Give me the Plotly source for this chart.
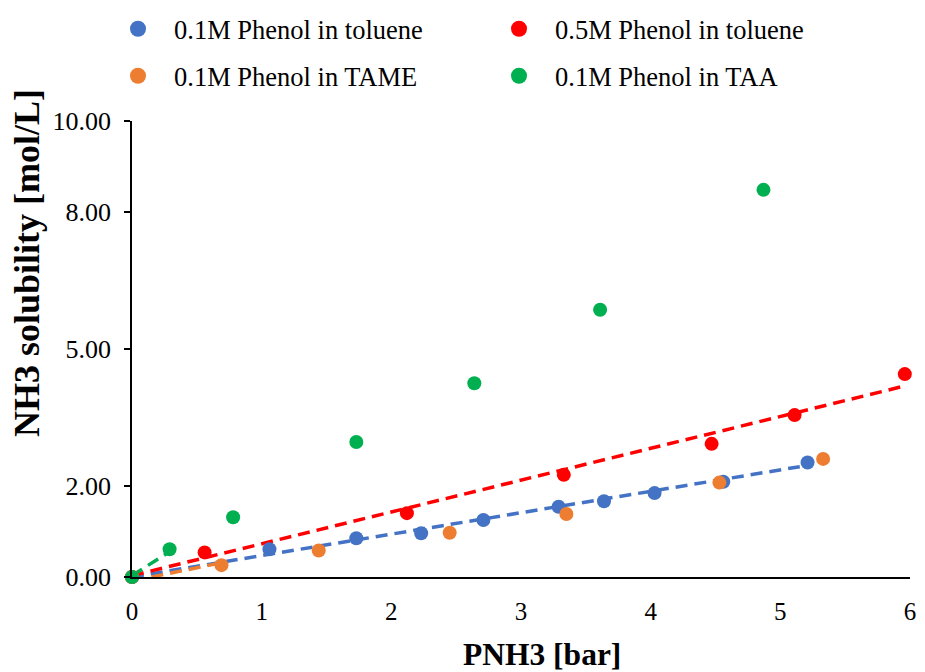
import plotly.graph_objects as go

FONT = "Liberation Serif, Times New Roman, serif"

# Data (PNH3 [bar], NH3 solubility [mol/L])
tol01_x = [0, 1.06, 1.73, 2.23, 2.71, 3.29, 3.64, 4.03, 4.56, 5.21]
tol01_y = [0, 0.61, 0.85, 0.96, 1.25, 1.54, 1.66, 1.84, 2.09, 2.51]

tol05_x = [0, 0.56, 2.12, 3.33, 4.47, 5.11, 5.96]
tol05_y = [0, 0.54, 1.40, 2.24, 2.92, 3.55, 4.45]

tame_x = [0, 0.69, 1.44, 2.45, 3.35, 4.53, 5.33]
tame_y = [0, 0.26, 0.58, 0.97, 1.38, 2.07, 2.59]

taa_x = [0, 0.29, 0.78, 1.73, 2.64, 3.61, 4.87]
taa_y = [0, 0.61, 1.31, 2.96, 4.25, 5.86, 8.49]

# Trendline endpoints
tol01_fit_x = [0, 5.15]
tol01_fit_y = [0.0, 2.42]
tol05_fit_x = [0, 5.96]
tol05_fit_y = [0.03, 4.19]
tame_fit_x = [0.15, 0.72]
tame_fit_y = [0.0, 0.33]
taa_fit_x = [0, 0.33]
taa_fit_y = [0.03, 0.63]

y_ticks = [0, 2, 5, 8, 10]
x_ticks = [0, 1, 2, 3, 4, 5, 6]

BLUE = "#4472C4"
RED = "#FF0000"
ORANGE = "#ED7D31"
GREEN = "#00B050"

fig = go.Figure()

DASH = "12px,7px"
for fx, fy, c in [(tol01_fit_x, tol01_fit_y, BLUE), (tol05_fit_x, tol05_fit_y, RED),
                  (tame_fit_x, tame_fit_y, ORANGE), (taa_fit_x, taa_fit_y, GREEN)]:
    fig.add_trace(go.Scatter(x=fx, y=fy, mode="lines", showlegend=False,
                             line=dict(color=c, width=3.5, dash=DASH), hoverinfo="skip"))

series = [
    ("0.1M Phenol in toluene", tol01_x, tol01_y, BLUE, "legend"),
    ("0.5M Phenol in toluene", tol05_x, tol05_y, RED, "legend"),
    ("0.1M Phenol in TAME", tame_x, tame_y, ORANGE, "legend2"),
    ("0.1M Phenol in TAA", taa_x, taa_y, GREEN, "legend2"),
]
for name, x, y, c, lg in series:
    fig.add_trace(go.Scatter(x=x, y=y, mode="markers", name=name, showlegend=False,
                             marker=dict(color=c, size=14), cliponaxis=False))
# legend entries (larger symbols, as in the reference)
for name, x, y, c, lg in series:
    fig.add_trace(go.Scatter(x=[None], y=[None], mode="markers", name=name, legend=lg,
                             marker=dict(color=c, size=18)))

legend_common = dict(
    orientation="h", xref="container", yref="container",
    xanchor="left", yanchor="middle",
    font=dict(family=FONT, size=26.5, color="black"),
    entrywidth=304, entrywidthmode="pixels", itemwidth=62,
    bgcolor="rgba(0,0,0,0)", borderwidth=0,
)

fig.update_layout(
    width=925, height=672,
    margin=dict(l=124, r=23, t=113, b=103, autoexpand=False),
    paper_bgcolor="white", plot_bgcolor="white",
    font=dict(family=FONT, color="black"),
    legend=dict(**legend_common, x=94 / 925, y=1 - 21 / 672),
    legend2=dict(**legend_common, x=94 / 925, y=1 - 68 / 672),
    xaxis=dict(
        range=[0, 6], tickvals=x_ticks, ticktext=[str(v) for v in x_ticks],
        showgrid=False, zeroline=False, showline=True, linecolor="black", linewidth=1.5,
        ticks="", tickfont=dict(family=FONT, size=25, color="black"),
        ticklabelstandoff=11,
    ),
    yaxis=dict(
        range=[0, 10], tickvals=y_ticks, ticktext=[f"{v:.2f}" for v in y_ticks],
        showgrid=False, zeroline=False, showline=True, linecolor="black", linewidth=1.5,
        ticks="outside", ticklen=6, tickwidth=1.5, tickcolor="black",
        tickfont=dict(family=FONT, size=26, color="black"),
        ticklabelstandoff=8,
    ),
    annotations=[
        dict(text="<b>PNH3 [bar]</b>", xref="paper", yref="paper",
             x=(534 - 124) / 778, y=(569 - 646) / 456, xanchor="center", yanchor="middle",
             showarrow=False, font=dict(family=FONT, size=31.5, color="black")),
        dict(text="<b>NH3 solubility [mol/L]</b>", xref="paper", yref="paper",
             x=(19 - 124) / 778, y=(569 - 255) / 456, xanchor="center", yanchor="middle",
             textangle=-90, showarrow=False, font=dict(family=FONT, size=36, color="black")),
    ],
)

fig.write_html("out.html")
